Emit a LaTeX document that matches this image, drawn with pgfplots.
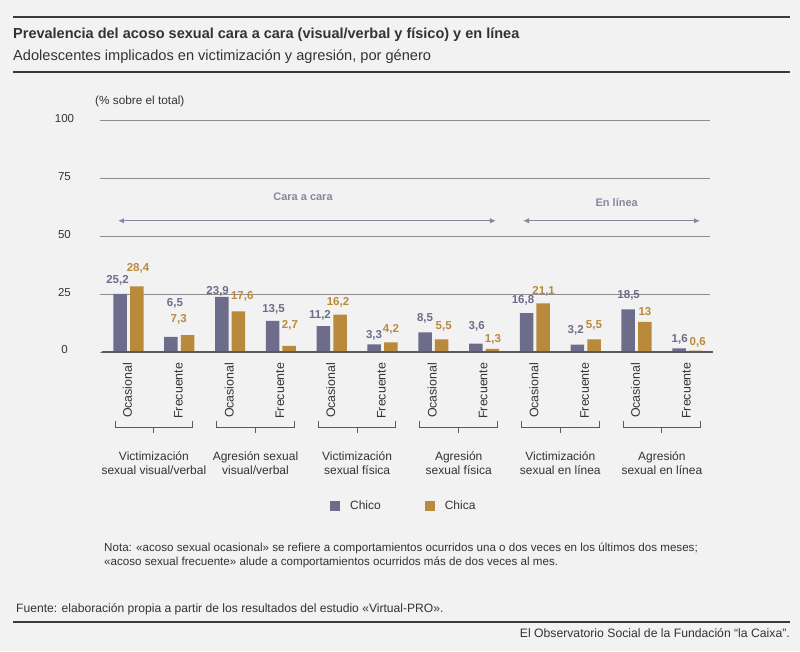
\documentclass[border=0pt]{standalone}
\usepackage{pgfplots}
\pgfplotsset{compat=1.18}
\usepackage{fontspec}
\setmainfont{Liberation Sans}
\usetikzlibrary{arrows.meta}
\definecolor{bg}{HTML}{F2F2F2}
\definecolor{txt}{HTML}{333333}
\definecolor{rule}{HTML}{3A3A3A}
\definecolor{gridc}{HTML}{8E8E8E}
\definecolor{basec}{HTML}{5A5A5A}
\definecolor{chico}{HTML}{6D6D8B}
\definecolor{chica}{HTML}{B98A3C}
\definecolor{arrowc}{HTML}{8A84A3}
\newcommand\fs[2]{\fontsize{#1}{#2}\selectfont}
\newcommand\bracket[3]{%
  \draw[basec, line width=1pt] (axis cs:#1,-29.9) -- (axis cs:#1,-32.7) -- (axis cs:#2,-32.7) -- (axis cs:#2,-29.9);
  \draw[basec, line width=1pt] (axis cs:#3,-32.7) -- (axis cs:#3,-35.1);}
\begin{document}
\begin{tikzpicture}
\fill[bg] (0pt,0pt) rectangle (800pt,651pt);
\useasboundingbox (0pt,0pt) rectangle (800pt,651pt);
% header
\draw[rule, line width=2pt] (13pt,633.5pt) -- (790pt,633.5pt);
\node[anchor=base west, inner sep=0pt, text=txt] at (13pt,612.7pt) {\fs{14.5}{16}\bfseries Prevalencia del acoso sexual cara a cara (visual/verbal y físico) y en línea};
\node[anchor=base west, inner sep=0pt, text=txt] at (13pt,590.5pt) {\fs{14.6}{16}Adolescentes implicados en victimización y agresión, por género};
\draw[rule, line width=2pt] (13pt,578.7pt) -- (790pt,578.7pt);
\node[anchor=west, inner sep=0pt, text=txt] at (95pt,549.3pt) {\fs{11.8}{13}(\% sobre el total)};
\begin{axis}[
  at={(100pt,299pt)}, anchor=south west,
  scale only axis, width=610pt, height=231pt,
  xmin=-0.561, xmax=11.447, ymin=0, ymax=100,
  clip=false,
  axis line style={draw=none},
  major tick style={draw=none},
  ytick={0,25,50,75,100},
  ymajorgrids, grid style={color=gridc, line width=1pt},
  yticklabel style={font=\fs{11.5}{13}, text=txt, anchor=center, xshift=-35.5pt, yshift=2pt},
  /pgf/number format/assume math mode=true,
  xtick={0,...,11},
  xticklabels={Ocasional,Frecuente,Ocasional,Frecuente,Ocasional,Frecuente,Ocasional,Frecuente,Ocasional,Frecuente,Ocasional,Frecuente},
  xticklabel style={rotate=90, anchor=east, font=\fs{12.4}{14}, text=txt, xshift=-3pt, yshift=1pt},
  ybar, bar width=13.5pt,
  legend columns=2,
  legend style={at={(0.498,-0.6667)}, anchor=center, draw=none, fill=none, font=\fs{12}{14}, text=txt,
    /tikz/every odd column/.append style={column sep=8pt},
    /tikz/every even column/.append style={column sep=42pt}},
  legend image code/.code={\fill[#1] (0pt,-5pt) rectangle (10pt,5pt);},
]
\addplot[fill=chico, draw=none, bar shift=-8.3pt] coordinates {(0,25.2) (1,6.5) (2,23.9) (3,13.5) (4,11.2) (5,3.3) (6,8.5) (7,3.6) (8,16.8) (9,3.2) (10,18.5) (11,1.6)};
\addplot[fill=chica, draw=none, bar shift=8.3pt] coordinates {(0,28.4) (1,7.3) (2,17.6) (3,2.7) (4,16.2) (5,4.2) (6,5.5) (7,1.3) (8,21.1) (9,5.5) (10,13) (11,0.6)};
\legend{Chico,Chica}
% baseline
\draw[basec, line width=2pt] (axis cs:-0.53,0) -- (axis cs:11.5,0);
% value labels
\begin{scope}[every node/.style={font=\fs{11.5}{13}\bfseries, inner sep=0pt}]
\node[text=chico] at (axis cs:-0.217,31.2) {25,2};
\node[text=chica] at (axis cs:0.187,36.4) {28,4};
\node[text=chico] at (axis cs:0.915,21.2) {6,5};
\node[text=chica] at (axis cs:0.988,14.2) {7,3};
\node[text=chico] at (axis cs:1.755,26.1) {23,9};
\node[text=chica] at (axis cs:2.240,24.2) {17,6};
\node[text=chico] at (axis cs:2.854,18.6) {13,5};
\node[text=chica] at (axis cs:3.179,11.7) {2,7};
\node[text=chico] at (axis cs:3.770,16.0) {11,2};
\node[text=chica] at (axis cs:4.124,21.3) {16,2};
\node[text=chico] at (axis cs:4.833,7.4) {3,3};
\node[text=chica] at (axis cs:5.167,10.0) {4,2};
\node[text=chico] at (axis cs:5.837,14.7) {8,5};
\node[text=chica] at (axis cs:6.205,11.0) {5,5};
\node[text=chico] at (axis cs:6.854,11.0) {3,6};
\node[text=chica] at (axis cs:7.175,5.6) {1,3};
\node[text=chico] at (axis cs:7.766,22.2) {16,8};
\node[text=chica] at (axis cs:8.173,26.1) {21,1};
\node[text=chico] at (axis cs:8.803,9.2) {3,2};
\node[text=chica] at (axis cs:9.163,11.3) {5,5};
\node[text=chico] at (axis cs:9.846,24.4) {18,5};
\node[text=chica] at (axis cs:10.167,17.4) {13};
\node[text=chico] at (axis cs:10.85,5.6) {1,6};
\node[text=chica] at (axis cs:11.205,4.2) {0,6};
\end{scope}
% section arrows
\draw[arrowc, line width=1.2pt, {Latex[length=6pt,width=5.5pt]}-{Latex[length=6pt,width=5.5pt]}] (axis cs:-0.207,56.8) -- (axis cs:7.234,56.8);
\draw[arrowc, line width=1.2pt, {Latex[length=6pt,width=5.5pt]}-{Latex[length=6pt,width=5.5pt]}] (axis cs:7.766,56.8) -- (axis cs:11.25,56.8);
\node[text=arrowc, font=\fs{11}{13}\bfseries] at (axis cs:3.435,67.1) {Cara a cara};
\node[text=arrowc, font=\fs{11}{13}\bfseries] at (axis cs:9.61,64.6) {En línea};
% group brackets
\bracket{-0.264}{1.264}{0.5}
\bracket{1.736}{3.264}{2.5}
\bracket{3.736}{5.264}{4.5}
\bracket{5.736}{7.264}{6.5}
\bracket{7.736}{9.264}{8.5}
\bracket{9.736}{11.264}{10.5}
\begin{scope}[every node/.style={text=txt, align=center, font=\fs{12}{14.5}, inner sep=0pt}]
\node at (axis cs:0.5,-48.05) {Victimización\\sexual visual/verbal};
\node at (axis cs:2.5,-48.05) {Agresión sexual\\visual/verbal};
\node at (axis cs:4.5,-48.05) {Victimización\\sexual física};
\node at (axis cs:6.5,-48.05) {Agresión\\sexual física};
\node at (axis cs:8.5,-48.05) {Victimización\\sexual en línea};
\node at (axis cs:10.5,-48.05) {Agresión\\sexual en línea};
\end{scope}
\end{axis}
% notes
\node[anchor=base west, inner sep=0pt, text=txt] at (104pt,100pt) {\fs{11.6}{13}Nota: «acoso sexual ocasional» se refiere a comportamientos ocurridos una o dos veces en los últimos dos meses;};
\node[anchor=base west, inner sep=0pt, text=txt] at (104pt,86pt) {\fs{11.6}{13}«acoso sexual frecuente» alude a comportamientos ocurridos más de dos veces al mes.};
\node[anchor=base west, inner sep=0pt, text=txt] at (16pt,39pt) {\fs{12.1}{13}Fuente: elaboración propia a partir de los resultados del estudio «Virtual-PRO».};
\draw[rule, line width=2pt] (13pt,29.3pt) -- (790pt,29.3pt);
\node[anchor=base east, inner sep=0pt, text=txt] at (790pt,14pt) {\fs{12.2}{13}El Observatorio Social de la Fundación “la Caixa”.};
\end{tikzpicture}
\end{document}
